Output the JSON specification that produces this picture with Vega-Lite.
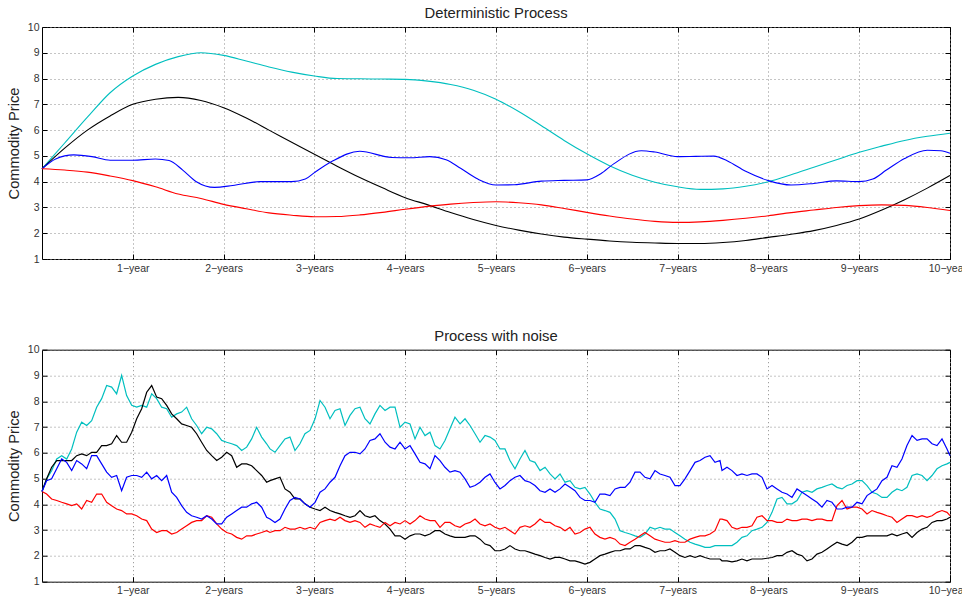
{
  "$schema": "https://vega.github.io/schema/vega-lite/v6.json",
  "background": "white",
  "padding": {"left": 5, "top": 5, "right": 0, "bottom": 0},
  "spacing": 90.7,
  "bounds": "flush",
  "config": {
    "font": "Liberation Sans",
    "view": {"stroke": "#000000", "strokeWidth": 1},
    "axis": {
      "domain": false,
      "labelFont": "Liberation Sans",
      "labelFontSize": 10.5,
      "labelColor": "#333333",
      "tickColor": "#000000",
      "tickWidth": 1,
      "gridColor": "#8a8a8a",
      "gridDash": [1, 3],
      "gridWidth": 1,
      "titleFont": "Liberation Sans",
      "titleFontSize": 14.7,
      "titleFontWeight": "normal",
      "titleColor": "#222222"
    },
    "title": {"font": "Liberation Sans", "fontSize": 14.8, "fontWeight": "normal", "color": "#222222", "offset": 1}
  },
  "datasets": {
    "smooth": [
      {"s": "c", "t": 0, "v": 4.5}, {"s": "c", "t": 0.25, "v": 5.5}, {"s": "c", "t": 0.5, "v": 6.5}, {"s": "c", "t": 0.75, "v": 7.45},
      {"s": "c", "t": 1, "v": 8.1}, {"s": "c", "t": 1.25, "v": 8.55}, {"s": "c", "t": 1.5, "v": 8.85}, {"s": "c", "t": 1.75, "v": 9.0},
      {"s": "c", "t": 2, "v": 8.9}, {"s": "c", "t": 2.25, "v": 8.68}, {"s": "c", "t": 2.5, "v": 8.45}, {"s": "c", "t": 2.75, "v": 8.25},
      {"s": "c", "t": 3, "v": 8.1}, {"s": "c", "t": 3.25, "v": 8.0}, {"s": "c", "t": 3.5, "v": 7.99}, {"s": "c", "t": 3.75, "v": 7.98},
      {"s": "c", "t": 4, "v": 7.97}, {"s": "c", "t": 4.25, "v": 7.9}, {"s": "c", "t": 4.5, "v": 7.77}, {"s": "c", "t": 4.75, "v": 7.55},
      {"s": "c", "t": 5, "v": 7.2}, {"s": "c", "t": 5.25, "v": 6.72}, {"s": "c", "t": 5.5, "v": 6.17}, {"s": "c", "t": 5.75, "v": 5.6},
      {"s": "c", "t": 6, "v": 5.08}, {"s": "c", "t": 6.25, "v": 4.62}, {"s": "c", "t": 6.5, "v": 4.25}, {"s": "c", "t": 6.75, "v": 3.98},
      {"s": "c", "t": 7, "v": 3.8}, {"s": "c", "t": 7.25, "v": 3.7}, {"s": "c", "t": 7.5, "v": 3.72}, {"s": "c", "t": 7.75, "v": 3.82},
      {"s": "c", "t": 8, "v": 4.0}, {"s": "c", "t": 8.25, "v": 4.27}, {"s": "c", "t": 8.5, "v": 4.56}, {"s": "c", "t": 8.75, "v": 4.85},
      {"s": "c", "t": 9, "v": 5.14}, {"s": "c", "t": 9.25, "v": 5.38}, {"s": "c", "t": 9.5, "v": 5.6}, {"s": "c", "t": 9.75, "v": 5.76},
      {"s": "c", "t": 10, "v": 5.88},
      {"s": "k", "t": 0, "v": 4.5}, {"s": "k", "t": 0.25, "v": 5.3}, {"s": "k", "t": 0.5, "v": 6.0}, {"s": "k", "t": 0.75, "v": 6.55},
      {"s": "k", "t": 1, "v": 7.0}, {"s": "k", "t": 1.25, "v": 7.2}, {"s": "k", "t": 1.5, "v": 7.27}, {"s": "k", "t": 1.75, "v": 7.15},
      {"s": "k", "t": 2, "v": 6.87}, {"s": "k", "t": 2.25, "v": 6.47}, {"s": "k", "t": 2.5, "v": 6.0}, {"s": "k", "t": 2.75, "v": 5.53},
      {"s": "k", "t": 3, "v": 5.06}, {"s": "k", "t": 3.25, "v": 4.6}, {"s": "k", "t": 3.5, "v": 4.16}, {"s": "k", "t": 3.75, "v": 3.76},
      {"s": "k", "t": 4, "v": 3.38}, {"s": "k", "t": 4.25, "v": 3.1}, {"s": "k", "t": 4.5, "v": 2.8}, {"s": "k", "t": 4.75, "v": 2.53},
      {"s": "k", "t": 5, "v": 2.3}, {"s": "k", "t": 5.25, "v": 2.12}, {"s": "k", "t": 5.5, "v": 1.97}, {"s": "k", "t": 5.75, "v": 1.85},
      {"s": "k", "t": 6, "v": 1.77}, {"s": "k", "t": 6.25, "v": 1.7}, {"s": "k", "t": 6.5, "v": 1.65}, {"s": "k", "t": 6.75, "v": 1.62},
      {"s": "k", "t": 7, "v": 1.6}, {"s": "k", "t": 7.25, "v": 1.6}, {"s": "k", "t": 7.5, "v": 1.64}, {"s": "k", "t": 7.75, "v": 1.72},
      {"s": "k", "t": 8, "v": 1.84}, {"s": "k", "t": 8.25, "v": 1.96}, {"s": "k", "t": 8.5, "v": 2.1}, {"s": "k", "t": 8.75, "v": 2.3},
      {"s": "k", "t": 9, "v": 2.55}, {"s": "k", "t": 9.25, "v": 2.9}, {"s": "k", "t": 9.5, "v": 3.3}, {"s": "k", "t": 9.75, "v": 3.75},
      {"s": "k", "t": 10, "v": 4.24},
      {"s": "b", "t": 0, "v": 4.5}, {"s": "b", "t": 0.15, "v": 4.88}, {"s": "b", "t": 0.35, "v": 5.04}, {"s": "b", "t": 0.55, "v": 4.97},
      {"s": "b", "t": 0.75, "v": 4.83}, {"s": "b", "t": 1, "v": 4.83}, {"s": "b", "t": 1.25, "v": 4.88}, {"s": "b", "t": 1.4, "v": 4.82},
      {"s": "b", "t": 1.55, "v": 4.45}, {"s": "b", "t": 1.7, "v": 4.0}, {"s": "b", "t": 1.9, "v": 3.78}, {"s": "b", "t": 2.1, "v": 3.85},
      {"s": "b", "t": 2.4, "v": 4.0}, {"s": "b", "t": 2.75, "v": 4.0}, {"s": "b", "t": 2.9, "v": 4.1}, {"s": "b", "t": 3.0, "v": 4.35},
      {"s": "b", "t": 3.2, "v": 4.8}, {"s": "b", "t": 3.5, "v": 5.18}, {"s": "b", "t": 3.85, "v": 4.94}, {"s": "b", "t": 4.05, "v": 4.93},
      {"s": "b", "t": 4.27, "v": 4.97}, {"s": "b", "t": 4.45, "v": 4.85}, {"s": "b", "t": 4.61, "v": 4.52}, {"s": "b", "t": 4.8, "v": 4.1},
      {"s": "b", "t": 5.0, "v": 3.87}, {"s": "b", "t": 5.2, "v": 3.88}, {"s": "b", "t": 5.5, "v": 4.02}, {"s": "b", "t": 5.75, "v": 4.05},
      {"s": "b", "t": 6.0, "v": 4.07}, {"s": "b", "t": 6.15, "v": 4.3}, {"s": "b", "t": 6.3, "v": 4.7}, {"s": "b", "t": 6.6, "v": 5.2},
      {"s": "b", "t": 6.75, "v": 5.15}, {"s": "b", "t": 7.0, "v": 4.97}, {"s": "b", "t": 7.2, "v": 4.98}, {"s": "b", "t": 7.4, "v": 4.99},
      {"s": "b", "t": 7.55, "v": 4.8}, {"s": "b", "t": 7.75, "v": 4.4}, {"s": "b", "t": 8.0, "v": 4.04}, {"s": "b", "t": 8.25, "v": 3.87},
      {"s": "b", "t": 8.5, "v": 3.93}, {"s": "b", "t": 8.75, "v": 4.03}, {"s": "b", "t": 9.0, "v": 4.0}, {"s": "b", "t": 9.15, "v": 4.1},
      {"s": "b", "t": 9.3, "v": 4.45}, {"s": "b", "t": 9.5, "v": 4.9}, {"s": "b", "t": 9.75, "v": 5.22}, {"s": "b", "t": 9.9, "v": 5.2},
      {"s": "b", "t": 10, "v": 5.1},
      {"s": "r", "t": 0, "v": 4.5}, {"s": "r", "t": 0.25, "v": 4.45}, {"s": "r", "t": 0.5, "v": 4.37}, {"s": "r", "t": 0.75, "v": 4.22},
      {"s": "r", "t": 1, "v": 4.04}, {"s": "r", "t": 1.25, "v": 3.8}, {"s": "r", "t": 1.5, "v": 3.52}, {"s": "r", "t": 1.75, "v": 3.35},
      {"s": "r", "t": 2, "v": 3.12}, {"s": "r", "t": 2.25, "v": 2.95}, {"s": "r", "t": 2.5, "v": 2.79}, {"s": "r", "t": 2.75, "v": 2.7},
      {"s": "r", "t": 3, "v": 2.64}, {"s": "r", "t": 3.25, "v": 2.65}, {"s": "r", "t": 3.5, "v": 2.71}, {"s": "r", "t": 3.75, "v": 2.81},
      {"s": "r", "t": 4, "v": 2.93}, {"s": "r", "t": 4.25, "v": 3.04}, {"s": "r", "t": 4.5, "v": 3.13}, {"s": "r", "t": 4.75, "v": 3.19},
      {"s": "r", "t": 5, "v": 3.22}, {"s": "r", "t": 5.25, "v": 3.18}, {"s": "r", "t": 5.5, "v": 3.1}, {"s": "r", "t": 5.75, "v": 2.96},
      {"s": "r", "t": 6, "v": 2.81}, {"s": "r", "t": 6.25, "v": 2.67}, {"s": "r", "t": 6.5, "v": 2.55}, {"s": "r", "t": 6.75, "v": 2.46},
      {"s": "r", "t": 7, "v": 2.42}, {"s": "r", "t": 7.25, "v": 2.44}, {"s": "r", "t": 7.5, "v": 2.5}, {"s": "r", "t": 7.75, "v": 2.58},
      {"s": "r", "t": 8, "v": 2.68}, {"s": "r", "t": 8.25, "v": 2.8}, {"s": "r", "t": 8.5, "v": 2.9}, {"s": "r", "t": 8.75, "v": 3.0},
      {"s": "r", "t": 9, "v": 3.07}, {"s": "r", "t": 9.25, "v": 3.1}, {"s": "r", "t": 9.5, "v": 3.08}, {"s": "r", "t": 9.75, "v": 3.0},
      {"s": "r", "t": 10, "v": 2.88}
    ],
    "noisy": [
      {"t": 0, "c": 4.5, "k": 4.5, "b": 4.5, "r": 4.5},
      {"t": 0.051, "c": 4.99, "k": 4.99, "b": 4.92, "r": 4.4},
      {"t": 0.106, "c": 5.31, "k": 5.44, "b": 4.99, "r": 4.21},
      {"t": 0.162, "c": 5.76, "k": 5.7, "b": 5.38, "r": 4.15},
      {"t": 0.217, "c": 5.89, "k": 5.7, "b": 5.76, "r": 4.08},
      {"t": 0.272, "c": 5.76, "k": 5.7, "b": 5.63, "r": 4.02},
      {"t": 0.327, "c": 6.15, "k": 5.7, "b": 5.31, "r": 3.95},
      {"t": 0.382, "c": 6.8, "k": 5.89, "b": 5.7, "r": 4.02},
      {"t": 0.437, "c": 7.19, "k": 5.96, "b": 5.57, "r": 3.82},
      {"t": 0.492, "c": 7.06, "k": 5.89, "b": 5.38, "r": 4.15},
      {"t": 0.547, "c": 7.25, "k": 6.02, "b": 5.89, "r": 4.08},
      {"t": 0.602, "c": 7.77, "k": 6.02, "b": 5.89, "r": 4.4},
      {"t": 0.657, "c": 8.1, "k": 6.28, "b": 5.57, "r": 4.4},
      {"t": 0.712, "c": 8.61, "k": 6.28, "b": 5.25, "r": 4.08},
      {"t": 0.767, "c": 8.55, "k": 6.35, "b": 5.05, "r": 3.95},
      {"t": 0.822, "c": 8.29, "k": 6.67, "b": 5.12, "r": 3.82},
      {"t": 0.877, "c": 9.0, "k": 6.41, "b": 4.53, "r": 3.76},
      {"t": 0.932, "c": 8.22, "k": 6.41, "b": 5.05, "r": 3.63},
      {"t": 0.988, "c": 7.84, "k": 6.8, "b": 5.12, "r": 3.63},
      {"t": 1.043, "c": 7.77, "k": 7.32, "b": 5.12, "r": 3.56},
      {"t": 1.098, "c": 7.84, "k": 7.71, "b": 5.05, "r": 3.43},
      {"t": 1.153, "c": 7.77, "k": 8.35, "b": 5.25, "r": 3.37},
      {"t": 1.208, "c": 8.29, "k": 8.61, "b": 4.99, "r": 3.04},
      {"t": 1.263, "c": 8.1, "k": 8.16, "b": 5.12, "r": 2.91},
      {"t": 1.318, "c": 7.77, "k": 8.1, "b": 4.92, "r": 2.98},
      {"t": 1.373, "c": 7.71, "k": 7.84, "b": 5.12, "r": 2.98},
      {"t": 1.428, "c": 7.38, "k": 7.51, "b": 4.47, "r": 2.85},
      {"t": 1.483, "c": 7.51, "k": 7.32, "b": 4.27, "r": 2.91},
      {"t": 1.538, "c": 7.58, "k": 7.12, "b": 3.95, "r": 3.04},
      {"t": 1.593, "c": 7.77, "k": 7.06, "b": 3.69, "r": 3.17},
      {"t": 1.648, "c": 7.32, "k": 6.99, "b": 3.56, "r": 3.3},
      {"t": 1.703, "c": 7.06, "k": 6.74, "b": 3.5, "r": 3.37},
      {"t": 1.758, "c": 6.74, "k": 6.41, "b": 3.43, "r": 3.37},
      {"t": 1.814, "c": 6.99, "k": 6.09, "b": 3.56, "r": 3.56},
      {"t": 1.869, "c": 6.93, "k": 5.89, "b": 3.43, "r": 3.5},
      {"t": 1.924, "c": 6.74, "k": 5.7, "b": 3.24, "r": 3.24},
      {"t": 1.979, "c": 6.48, "k": 5.83, "b": 3.24, "r": 3.04},
      {"t": 2.034, "c": 6.41, "k": 6.02, "b": 3.5, "r": 2.91},
      {"t": 2.089, "c": 6.35, "k": 5.89, "b": 3.63, "r": 2.85},
      {"t": 2.144, "c": 6.28, "k": 5.44, "b": 3.76, "r": 2.72},
      {"t": 2.199, "c": 6.09, "k": 5.57, "b": 3.89, "r": 2.65},
      {"t": 2.254, "c": 6.22, "k": 5.57, "b": 3.89, "r": 2.78},
      {"t": 2.309, "c": 6.54, "k": 5.5, "b": 4.02, "r": 2.78},
      {"t": 2.364, "c": 6.99, "k": 5.31, "b": 4.08, "r": 2.85},
      {"t": 2.419, "c": 6.61, "k": 5.12, "b": 3.89, "r": 2.91},
      {"t": 2.474, "c": 6.35, "k": 4.86, "b": 3.5, "r": 2.98},
      {"t": 2.511, "c": 6.15, "k": 4.92, "b": 3.43, "r": 2.91},
      {"t": 2.566, "c": 6.02, "k": 4.99, "b": 3.3, "r": 2.98},
      {"t": 2.621, "c": 6.28, "k": 5.05, "b": 3.43, "r": 2.98},
      {"t": 2.676, "c": 6.54, "k": 4.6, "b": 3.82, "r": 3.11},
      {"t": 2.731, "c": 6.61, "k": 4.47, "b": 4.15, "r": 3.04},
      {"t": 2.786, "c": 6.09, "k": 4.21, "b": 4.27, "r": 3.04},
      {"t": 2.841, "c": 6.35, "k": 4.21, "b": 4.21, "r": 3.11},
      {"t": 2.896, "c": 6.74, "k": 4.02, "b": 4.02, "r": 3.04},
      {"t": 2.952, "c": 6.87, "k": 3.89, "b": 3.89, "r": 3.11},
      {"t": 3.007, "c": 7.32, "k": 3.82, "b": 4.08, "r": 3.04},
      {"t": 3.062, "c": 8.03, "k": 3.76, "b": 4.47, "r": 3.3},
      {"t": 3.117, "c": 7.77, "k": 3.89, "b": 4.6, "r": 3.37},
      {"t": 3.172, "c": 7.32, "k": 3.76, "b": 4.86, "r": 3.43},
      {"t": 3.227, "c": 7.64, "k": 3.69, "b": 5.05, "r": 3.37},
      {"t": 3.282, "c": 7.71, "k": 3.63, "b": 5.5, "r": 3.5},
      {"t": 3.337, "c": 7.06, "k": 3.56, "b": 5.89, "r": 3.37},
      {"t": 3.392, "c": 7.45, "k": 3.5, "b": 6.02, "r": 3.3},
      {"t": 3.447, "c": 7.71, "k": 3.56, "b": 6.02, "r": 3.37},
      {"t": 3.502, "c": 7.77, "k": 3.76, "b": 5.96, "r": 3.3},
      {"t": 3.557, "c": 7.32, "k": 3.56, "b": 6.15, "r": 3.11},
      {"t": 3.612, "c": 7.12, "k": 3.5, "b": 6.48, "r": 3.24},
      {"t": 3.667, "c": 7.51, "k": 3.56, "b": 6.54, "r": 3.17},
      {"t": 3.722, "c": 7.84, "k": 3.37, "b": 6.74, "r": 3.11},
      {"t": 3.778, "c": 7.64, "k": 3.24, "b": 6.41, "r": 3.3},
      {"t": 3.833, "c": 7.77, "k": 3.04, "b": 6.22, "r": 3.17},
      {"t": 3.888, "c": 7.77, "k": 2.78, "b": 6.15, "r": 3.3},
      {"t": 3.943, "c": 6.99, "k": 2.78, "b": 6.41, "r": 3.24},
      {"t": 3.998, "c": 7.19, "k": 2.65, "b": 6.15, "r": 3.37},
      {"t": 4.053, "c": 7.12, "k": 2.78, "b": 6.28, "r": 3.24},
      {"t": 4.108, "c": 6.54, "k": 2.85, "b": 5.96, "r": 3.37},
      {"t": 4.163, "c": 6.99, "k": 2.85, "b": 5.63, "r": 3.56},
      {"t": 4.218, "c": 6.67, "k": 2.78, "b": 5.57, "r": 3.43},
      {"t": 4.273, "c": 6.8, "k": 2.85, "b": 5.38, "r": 3.37},
      {"t": 4.328, "c": 6.28, "k": 2.98, "b": 5.89, "r": 3.37},
      {"t": 4.383, "c": 6.15, "k": 2.98, "b": 5.7, "r": 3.11},
      {"t": 4.438, "c": 6.48, "k": 2.85, "b": 5.44, "r": 3.3},
      {"t": 4.493, "c": 6.93, "k": 2.78, "b": 5.25, "r": 3.3},
      {"t": 4.548, "c": 7.38, "k": 2.72, "b": 5.31, "r": 3.17},
      {"t": 4.604, "c": 7.12, "k": 2.72, "b": 5.25, "r": 3.11},
      {"t": 4.659, "c": 7.32, "k": 2.72, "b": 4.99, "r": 3.24},
      {"t": 4.714, "c": 7.06, "k": 2.78, "b": 4.66, "r": 3.3},
      {"t": 4.769, "c": 6.74, "k": 2.78, "b": 4.73, "r": 3.43},
      {"t": 4.824, "c": 6.41, "k": 2.65, "b": 4.86, "r": 3.24},
      {"t": 4.879, "c": 6.67, "k": 2.46, "b": 5.05, "r": 3.17},
      {"t": 4.934, "c": 6.61, "k": 2.4, "b": 5.18, "r": 3.24},
      {"t": 4.989, "c": 6.48, "k": 2.2, "b": 4.85, "r": 3.11},
      {"t": 5.044, "c": 6.15, "k": 2.2, "b": 4.6, "r": 3.04},
      {"t": 5.099, "c": 6.15, "k": 2.27, "b": 4.73, "r": 3.11},
      {"t": 5.154, "c": 5.7, "k": 2.4, "b": 4.92, "r": 2.98},
      {"t": 5.209, "c": 5.38, "k": 2.27, "b": 5.05, "r": 2.85},
      {"t": 5.264, "c": 5.76, "k": 2.2, "b": 5.12, "r": 3.11},
      {"t": 5.319, "c": 6.09, "k": 2.2, "b": 4.92, "r": 3.17},
      {"t": 5.374, "c": 5.7, "k": 2.14, "b": 4.86, "r": 3.11},
      {"t": 5.429, "c": 5.63, "k": 2.07, "b": 4.73, "r": 3.24},
      {"t": 5.485, "c": 5.31, "k": 2.01, "b": 4.53, "r": 3.43},
      {"t": 5.54, "c": 5.44, "k": 1.94, "b": 4.47, "r": 3.3},
      {"t": 5.595, "c": 5.18, "k": 1.88, "b": 4.6, "r": 3.3},
      {"t": 5.65, "c": 4.99, "k": 1.94, "b": 4.47, "r": 3.17},
      {"t": 5.705, "c": 5.18, "k": 1.94, "b": 4.6, "r": 3.11},
      {"t": 5.76, "c": 4.86, "k": 1.88, "b": 4.79, "r": 2.98},
      {"t": 5.815, "c": 4.92, "k": 1.81, "b": 4.66, "r": 3.11},
      {"t": 5.87, "c": 4.66, "k": 1.81, "b": 4.53, "r": 2.85},
      {"t": 5.925, "c": 4.6, "k": 1.75, "b": 4.27, "r": 2.91},
      {"t": 5.98, "c": 4.66, "k": 1.68, "b": 4.15, "r": 3.04},
      {"t": 6.035, "c": 4.4, "k": 1.75, "b": 4.15, "r": 3.11},
      {"t": 6.09, "c": 4.08, "k": 1.88, "b": 4.08, "r": 2.85},
      {"t": 6.145, "c": 3.82, "k": 2.01, "b": 4.4, "r": 2.72},
      {"t": 6.2, "c": 3.76, "k": 2.07, "b": 4.4, "r": 2.65},
      {"t": 6.255, "c": 3.69, "k": 2.14, "b": 4.34, "r": 2.72},
      {"t": 6.311, "c": 3.43, "k": 2.2, "b": 4.6, "r": 2.65},
      {"t": 6.366, "c": 2.98, "k": 2.2, "b": 4.66, "r": 2.46},
      {"t": 6.421, "c": 2.91, "k": 2.27, "b": 4.66, "r": 2.4},
      {"t": 6.476, "c": 2.85, "k": 2.27, "b": 4.86, "r": 2.53},
      {"t": 6.531, "c": 2.78, "k": 2.4, "b": 5.25, "r": 2.65},
      {"t": 6.586, "c": 2.72, "k": 2.4, "b": 5.25, "r": 2.78},
      {"t": 6.641, "c": 2.85, "k": 2.33, "b": 5.05, "r": 2.91},
      {"t": 6.696, "c": 3.11, "k": 2.27, "b": 4.99, "r": 2.78},
      {"t": 6.751, "c": 3.04, "k": 2.14, "b": 5.31, "r": 2.65},
      {"t": 6.806, "c": 3.11, "k": 2.2, "b": 5.18, "r": 2.59},
      {"t": 6.861, "c": 3.04, "k": 2.2, "b": 5.12, "r": 2.53},
      {"t": 6.916, "c": 3.04, "k": 2.27, "b": 5.05, "r": 2.53},
      {"t": 6.971, "c": 2.91, "k": 2.14, "b": 4.73, "r": 2.59},
      {"t": 7.026, "c": 2.78, "k": 2.01, "b": 4.73, "r": 2.53},
      {"t": 7.081, "c": 2.65, "k": 1.94, "b": 4.99, "r": 2.53},
      {"t": 7.137, "c": 2.53, "k": 2.01, "b": 5.31, "r": 2.65},
      {"t": 7.192, "c": 2.46, "k": 1.94, "b": 5.63, "r": 2.72},
      {"t": 7.247, "c": 2.4, "k": 2.01, "b": 5.7, "r": 2.78},
      {"t": 7.302, "c": 2.33, "k": 1.94, "b": 5.83, "r": 2.78},
      {"t": 7.357, "c": 2.33, "k": 1.88, "b": 5.89, "r": 2.85},
      {"t": 7.412, "c": 2.4, "k": 1.88, "b": 5.63, "r": 2.98},
      {"t": 7.467, "c": 2.4, "k": 1.88, "b": 5.7, "r": 3.43},
      {"t": 7.489, "c": 2.4, "k": 1.81, "b": 5.31, "r": 3.43},
      {"t": 7.544, "c": 2.4, "k": 1.81, "b": 5.44, "r": 3.37},
      {"t": 7.599, "c": 2.4, "k": 1.77, "b": 5.31, "r": 3.11},
      {"t": 7.654, "c": 2.53, "k": 1.81, "b": 5.12, "r": 3.04},
      {"t": 7.709, "c": 2.72, "k": 1.88, "b": 5.18, "r": 3.11},
      {"t": 7.764, "c": 2.78, "k": 1.81, "b": 5.12, "r": 3.11},
      {"t": 7.819, "c": 2.98, "k": 1.88, "b": 5.18, "r": 3.17},
      {"t": 7.874, "c": 3.04, "k": 1.88, "b": 5.18, "r": 3.5},
      {"t": 7.93, "c": 3.11, "k": 1.88, "b": 5.05, "r": 3.56},
      {"t": 7.985, "c": 3.3, "k": 1.91, "b": 4.6, "r": 3.37},
      {"t": 8.04, "c": 3.69, "k": 1.94, "b": 4.73, "r": 3.37},
      {"t": 8.095, "c": 4.21, "k": 2.01, "b": 4.6, "r": 3.3},
      {"t": 8.15, "c": 4.27, "k": 2.01, "b": 4.47, "r": 3.3},
      {"t": 8.205, "c": 4.02, "k": 2.14, "b": 4.4, "r": 3.43},
      {"t": 8.26, "c": 4.02, "k": 2.2, "b": 4.27, "r": 3.37},
      {"t": 8.315, "c": 4.15, "k": 2.07, "b": 4.6, "r": 3.37},
      {"t": 8.37, "c": 4.47, "k": 2.01, "b": 4.47, "r": 3.43},
      {"t": 8.425, "c": 4.53, "k": 1.81, "b": 4.34, "r": 3.43},
      {"t": 8.48, "c": 4.47, "k": 1.88, "b": 4.21, "r": 3.37},
      {"t": 8.535, "c": 4.6, "k": 2.07, "b": 4.08, "r": 3.43},
      {"t": 8.59, "c": 4.66, "k": 2.14, "b": 3.89, "r": 3.43},
      {"t": 8.645, "c": 4.73, "k": 2.27, "b": 4.15, "r": 3.37},
      {"t": 8.7, "c": 4.79, "k": 2.4, "b": 4.08, "r": 3.37},
      {"t": 8.756, "c": 4.66, "k": 2.53, "b": 3.82, "r": 3.95},
      {"t": 8.811, "c": 4.6, "k": 2.46, "b": 3.82, "r": 4.15},
      {"t": 8.866, "c": 4.73, "k": 2.4, "b": 3.89, "r": 3.82},
      {"t": 8.921, "c": 4.79, "k": 2.53, "b": 3.89, "r": 3.89},
      {"t": 8.976, "c": 4.92, "k": 2.72, "b": 4.08, "r": 3.89},
      {"t": 9.031, "c": 4.92, "k": 2.72, "b": 4.02, "r": 3.82},
      {"t": 9.086, "c": 4.73, "k": 2.78, "b": 4.34, "r": 3.63},
      {"t": 9.141, "c": 4.47, "k": 2.78, "b": 4.47, "r": 3.76},
      {"t": 9.196, "c": 4.4, "k": 2.78, "b": 4.6, "r": 3.69},
      {"t": 9.251, "c": 4.27, "k": 2.78, "b": 4.92, "r": 3.63},
      {"t": 9.306, "c": 4.27, "k": 2.78, "b": 5.05, "r": 3.56},
      {"t": 9.361, "c": 4.47, "k": 2.85, "b": 5.5, "r": 3.5},
      {"t": 9.416, "c": 4.6, "k": 2.78, "b": 5.44, "r": 3.3},
      {"t": 9.471, "c": 4.53, "k": 2.85, "b": 5.76, "r": 3.43},
      {"t": 9.526, "c": 4.66, "k": 2.91, "b": 6.28, "r": 3.56},
      {"t": 9.582, "c": 5.12, "k": 2.72, "b": 6.67, "r": 3.56},
      {"t": 9.637, "c": 5.18, "k": 2.91, "b": 6.48, "r": 3.5},
      {"t": 9.692, "c": 5.12, "k": 3.04, "b": 6.54, "r": 3.56},
      {"t": 9.747, "c": 4.92, "k": 3.11, "b": 6.54, "r": 3.5},
      {"t": 9.802, "c": 5.12, "k": 3.3, "b": 6.35, "r": 3.56},
      {"t": 9.857, "c": 5.38, "k": 3.37, "b": 6.28, "r": 3.69},
      {"t": 9.912, "c": 5.5, "k": 3.37, "b": 6.54, "r": 3.76},
      {"t": 9.967, "c": 5.57, "k": 3.43, "b": 6.15, "r": 3.69},
      {"t": 10, "c": 5.63, "k": 3.5, "b": 5.89, "r": 3.56}
    ]
  },
  "vconcat": [
    {
      "title": "Deterministic Process",
      "width": 908,
      "height": 232,
      "data": {"name": "smooth"},
      "layer": [
        {
          "mark": {"type": "line", "opacity": 0},
          "encoding": {
            "x": {"field": "t", "type": "quantitative", "scale": {"domain": [0, 10], "nice": false, "zero": false},
                  "axis": {"orient": "top", "values": [1, 2, 3, 4, 5, 6, 7, 8, 9, 10], "labels": false, "grid": false, "tickSize": -5, "title": null}},
            "y": {"field": "v", "type": "quantitative", "scale": {"domain": [1, 10], "nice": false, "zero": false},
                  "axis": {"orient": "right", "values": [1, 2, 3, 4, 5, 6, 7, 8, 9, 10], "labels": false, "grid": false, "tickSize": -5, "title": null}},
            "detail": {"field": "s", "type": "nominal"}
          }
        },
        {
          "mark": {"type": "line", "strokeWidth": 1.1, "interpolate": "monotone"},
          "encoding": {
            "x": {"field": "t", "type": "quantitative", "scale": {"domain": [0, 10], "nice": false, "zero": false},
                  "axis": {"orient": "bottom", "values": [1, 2, 3, 4, 5, 6, 7, 8, 9, 10], "grid": true, "tickSize": -5, "labelPadding": 9,
                           "labelFlush": false, "labelOverlap": false, "labelBound": false, "title": null,
                           "labelExpr": "datum.value == 1 ? '1−year' : datum.value + '−years'"}},
            "y": {"field": "v", "type": "quantitative", "scale": {"domain": [1, 10], "nice": false, "zero": false},
                  "axis": {"orient": "left", "values": [1, 2, 3, 4, 5, 6, 7, 8, 9, 10], "grid": true, "tickSize": -5, "labelPadding": 8,
                           "labelFlush": false, "labelOverlap": false, "title": "Commodity Price", "titlePadding": 6}},
            "color": {"field": "s", "type": "nominal", "legend": null,
                      "scale": {"domain": ["c", "k", "r", "b"], "range": ["#00BFBF", "#000000", "#FF0000", "#0000FF"]}}
          }
        }
      ],
      "resolve": {"axis": {"x": "independent", "y": "independent"}}
    },
    {
      "title": "Process with noise",
      "width": 908,
      "height": 232,
      "data": {"name": "noisy"},
      "transform": [{"fold": ["c", "k", "r", "b"], "as": ["s", "v"]}],
      "layer": [
        {
          "mark": {"type": "line", "opacity": 0},
          "encoding": {
            "x": {"field": "t", "type": "quantitative", "scale": {"domain": [0, 10], "nice": false, "zero": false},
                  "axis": {"orient": "top", "values": [1, 2, 3, 4, 5, 6, 7, 8, 9, 10], "labels": false, "grid": false, "tickSize": -5, "title": null}},
            "y": {"field": "v", "type": "quantitative", "scale": {"domain": [1, 10], "nice": false, "zero": false},
                  "axis": {"orient": "right", "values": [1, 2, 3, 4, 5, 6, 7, 8, 9, 10], "labels": false, "grid": false, "tickSize": -5, "title": null}},
            "detail": {"field": "s", "type": "nominal"}
          }
        },
        {
          "mark": {"type": "line", "strokeWidth": 1.2},
          "encoding": {
            "x": {"field": "t", "type": "quantitative", "scale": {"domain": [0, 10], "nice": false, "zero": false},
                  "axis": {"orient": "bottom", "values": [1, 2, 3, 4, 5, 6, 7, 8, 9, 10], "grid": true, "tickSize": -5, "labelPadding": 9,
                           "labelFlush": false, "labelOverlap": false, "labelBound": false, "title": null,
                           "labelExpr": "datum.value == 1 ? '1−year' : datum.value + '−years'"}},
            "y": {"field": "v", "type": "quantitative", "scale": {"domain": [1, 10], "nice": false, "zero": false},
                  "axis": {"orient": "left", "values": [1, 2, 3, 4, 5, 6, 7, 8, 9, 10], "grid": true, "tickSize": -5, "labelPadding": 8,
                           "labelFlush": false, "labelOverlap": false, "title": "Commodity Price", "titlePadding": 6}},
            "color": {"field": "s", "type": "nominal", "legend": null,
                      "scale": {"domain": ["c", "k", "r", "b"], "range": ["#00BFBF", "#000000", "#FF0000", "#0000FF"]}}
          }
        }
      ],
      "resolve": {"axis": {"x": "independent", "y": "independent"}}
    }
  ]
}
